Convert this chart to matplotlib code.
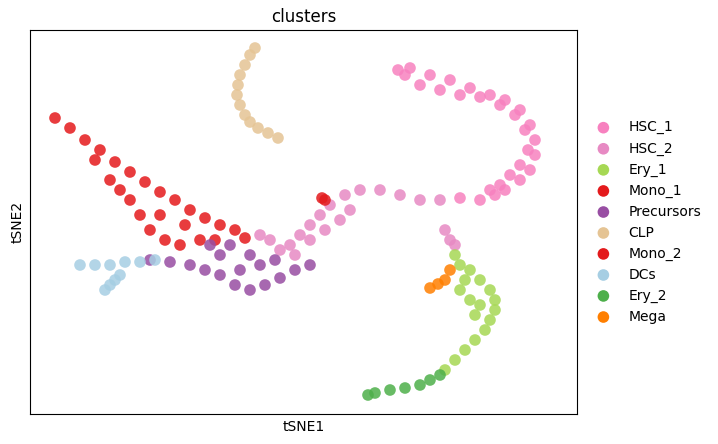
import matplotlib
matplotlib.use("Agg")
import matplotlib.pyplot as plt

# centreline points (pixel-like tSNE coordinates)
HSC_1 = [(398,70),(410,68),(430,75),(450,80),(470,88),(490,95),(505,100),(520,110),(530,125),(535,140),(535,155),(530,170),(520,180),(505,190),(495,195),(480,200),(460,198),
         (405,75),(420,85),(440,90),(460,95),(480,97),(500,105),(515,115),(525,130),(528,150),(520,165),(510,175),(500,185),(490,190)]
HSC_2 = [(440,200),(420,200),(400,195),(380,190),(360,190),(345,195),(330,205),(320,215),(310,225),(300,235),(290,245),(280,250),(270,240),(260,235),
         (350,210),(340,220),(325,230),(310,240),(295,255),(445,230),(450,240),(455,245)]
Ery_1 = [(455,255),(460,265),(470,270),(480,280),(490,290),(495,300),(495,310),(490,320),(485,330),(475,340),(465,350),(455,360),(445,370),
         (460,290),(470,300),(480,305),(475,315),(465,280)]
Mono_1 = [(55,118),(70,128),(85,140),(100,150),(115,162),(130,172),(145,182),(160,192),(175,200),(190,210),(205,218),(220,225),(235,230),(245,238),
          (130,200),(140,215),(150,230),(165,240),(180,245),(200,240),(110,180),(120,190),(95,160),(160,215),(185,225),(215,240)]
Precursors = [(150,260),(170,262),(190,265),(205,270),(220,275),(235,285),(250,290),(265,285),(280,278),(295,270),(310,265),
              (240,270),(260,265),(275,260),(220,255),(230,245),(250,255),(210,245)]
CLP = [(255,48),(250,55),(245,65),(240,75),(238,85),(237,95),(240,105),(245,115),(250,122),(258,128),(268,133),(278,138)]
Mono_2 = [(322,198),(325,200)]
DCs = [(80,265),(95,265),(110,265),(125,262),(140,262),(155,260),(120,275),(110,285),(105,290),(115,280)]
Ery_2 = [(440,375),(430,380),(420,385),(405,388),(390,390),(375,393),(368,395)]
Mega = [(430,288),(438,284),(445,280),(450,270)]

clusters = ["HSC_1","HSC_2","Ery_1","Mono_1","Precursors","CLP","Mono_2","DCs","Ery_2","Mega"]
data = [HSC_1,HSC_2,Ery_1,Mono_1,Precursors,CLP,Mono_2,DCs,Ery_2,Mega]
colors = ["#f781bf","#e78ac3","#a6d854","#e41a1c","#984ea3","#e5c494","#e31a1c","#a6cee3","#4daf4a","#ff7f00"]

fig = plt.figure(figsize=(7.18,4.44), dpi=100)
ax = fig.add_axes([30/718, 30/444, 547/718, 384/444])
for name, pts, c in zip(clusters, data, colors):
    xs = [p[0] for p in pts]; ys = [p[1] for p in pts]
    ax.scatter(xs, ys, s=70, color=c, alpha=0.85, edgecolors="none", label=name)
ax.set_xlim(30, 577)
ax.set_ylim(414, 30)
ax.set_xticks([]); ax.set_yticks([])
ax.set_xlabel("tSNE1"); ax.set_ylabel("tSNE2")
ax.set_title("clusters")
leg = ax.legend(loc="center left", bbox_to_anchor=(1.0, 0.5), frameon=False, markerscale=1.0)
for h in leg.legend_handles:
    h.set_sizes([70]); h.set_alpha(1)
fig.savefig("out.png", dpi=100)
